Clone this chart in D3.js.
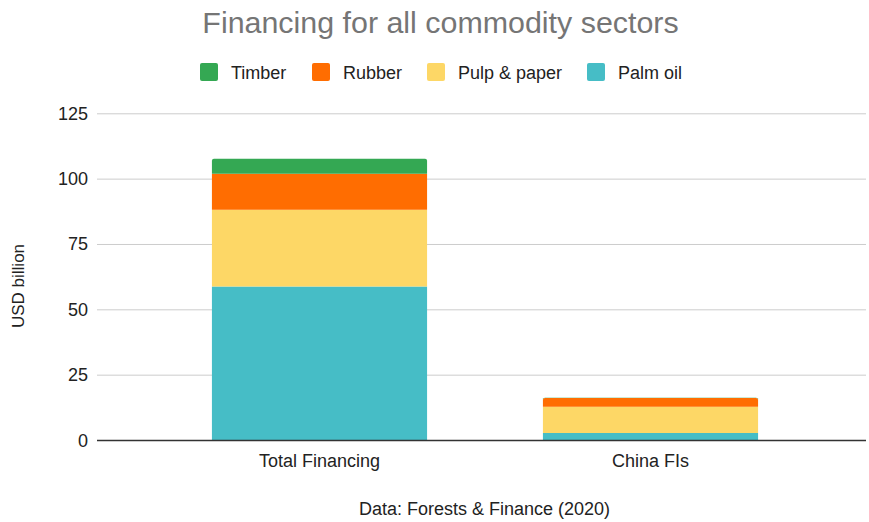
<!DOCTYPE html>
<html>
<head>
    <meta charset="utf-8">
    <script src="https://d3js.org/d3.v7.min.js"></script>
    <style>
        body { margin: 0; background: #fff; }
        text { font-family: Arial, "Liberation Sans", sans-serif; }
    </style>
</head>
<body>
    <svg id="chart" width="869" height="522"></svg>

    <script>
        // Data (USD billion)
        const categories = ["Total Financing", "China FIs"];
        const sectors = ["Palm oil", "Pulp & paper", "Rubber", "Timber"];
        const palmOil = [58.9, 2.9];
        const pulpPaper = [29.4, 10.0];
        const rubber = [13.8, 3.4];
        const timber = [5.7, 0.1];
        const yTicks = [0, 25, 50, 75, 100, 125];

        const colors = {
            "Timber": "#34a853",
            "Rubber": "#ff6d01",
            "Pulp & paper": "#fdd766",
            "Palm oil": "#46bdc6"
        };

        const svg = d3.select("#chart");

        // table for the stack layout
        const rows = categories.map((c, i) => ({
            category: c,
            "Palm oil": palmOil[i],
            "Pulp & paper": pulpPaper[i],
            "Rubber": rubber[i],
            "Timber": timber[i]
        }));
        const series = d3.stack().keys(sectors)(rows);

        const plotLeft = 97, plotRight = 866;

        const x = d3.scaleBand()
            .domain(categories)
            .range([154, 816])
            .paddingInner(0.35)
            .paddingOuter(0.175);

        const y = d3.scaleLinear()
            .domain([0, 125])
            .range([440.5, 113.8]);

        // title
        svg.append("text")
            .attr("x", 440.5)
            .attr("y", 33)
            .attr("text-anchor", "middle")
            .style("font-size", "30.4px")
            .style("fill", "#757575")
            .text("Financing for all commodity sectors");

        // legend (top-down order as in the reference)
        const legendItems = ["Timber", "Rubber", "Pulp & paper", "Palm oil"];
        const legendX = [200, 312, 427, 587];
        const legend = svg.append("g");
        legendItems.forEach((name, i) => {
            legend.append("rect")
                .attr("x", legendX[i]).attr("y", 63)
                .attr("width", 18).attr("height", 18)
                .attr("rx", 2)
                .attr("fill", colors[name]);
            legend.append("text")
                .attr("x", legendX[i] + 31)
                .attr("y", 78.5)
                .style("font-size", "18px")
                .style("fill", "#222")
                .text(name);
        });

        // gridlines + y labels
        svg.append("g")
            .selectAll("line")
            .data(yTicks.filter(d => d !== 0))
            .join("line")
            .attr("x1", plotLeft).attr("x2", plotRight)
            .attr("y1", d => y(d)).attr("y2", d => y(d))
            .attr("stroke", "#cccccc")
            .attr("stroke-width", 1);

        svg.append("g")
            .selectAll("text")
            .data(yTicks)
            .join("text")
            .attr("x", 88)
            .attr("y", d => y(d) + 6)
            .attr("text-anchor", "end")
            .style("font-size", "18px")
            .style("fill", "#222")
            .text(d => d);

        // y-axis title
        svg.append("text")
            .attr("transform", "translate(24,286) rotate(-90)")
            .attr("text-anchor", "middle")
            .style("font-size", "17px")
            .style("fill", "#222")
            .text("USD billion");

        // bars, top segment of each stack gets small rounded corners
        const r = 2;
        svg.append("g")
            .selectAll("g")
            .data(series)
            .join("g")
            .attr("fill", d => colors[d.key])
            .selectAll("path")
            .data(d => d.map(v => ({ key: d.key, v })))
            .join("path")
            .attr("d", d => {
                const x0 = x(d.v.data.category), w = x.bandwidth();
                const yTop = y(d.v[1]), yBot = y(d.v[0]);
                const isTop = d.key === "Timber" ||
                    (d.v.data.category === "China FIs" && d.key === "Rubber");
                if (!isTop) return `M${x0},${yBot}V${yTop}H${x0 + w}V${yBot}Z`;
                return `M${x0},${yBot}V${yTop + r}Q${x0},${yTop} ${x0 + r},${yTop}` +
                    `H${x0 + w - r}Q${x0 + w},${yTop} ${x0 + w},${yTop + r}V${yBot}Z`;
            });

        // baseline
        svg.append("line")
            .attr("x1", plotLeft).attr("x2", plotRight)
            .attr("y1", y(0)).attr("y2", y(0))
            .attr("stroke", "#333")
            .attr("stroke-width", 1.3);

        // category labels
        svg.append("g")
            .selectAll("text")
            .data(categories)
            .join("text")
            .attr("x", d => x(d) + x.bandwidth() / 2)
            .attr("y", 467)
            .attr("text-anchor", "middle")
            .style("font-size", "18px")
            .style("fill", "#222")
            .text(d => d);

        // source line
        svg.append("text")
            .attr("x", 484.5)
            .attr("y", 515)
            .attr("text-anchor", "middle")
            .style("font-size", "18px")
            .style("fill", "#222")
            .text("Data: Forests & Finance (2020)");
    </script>
</body>
</html>
